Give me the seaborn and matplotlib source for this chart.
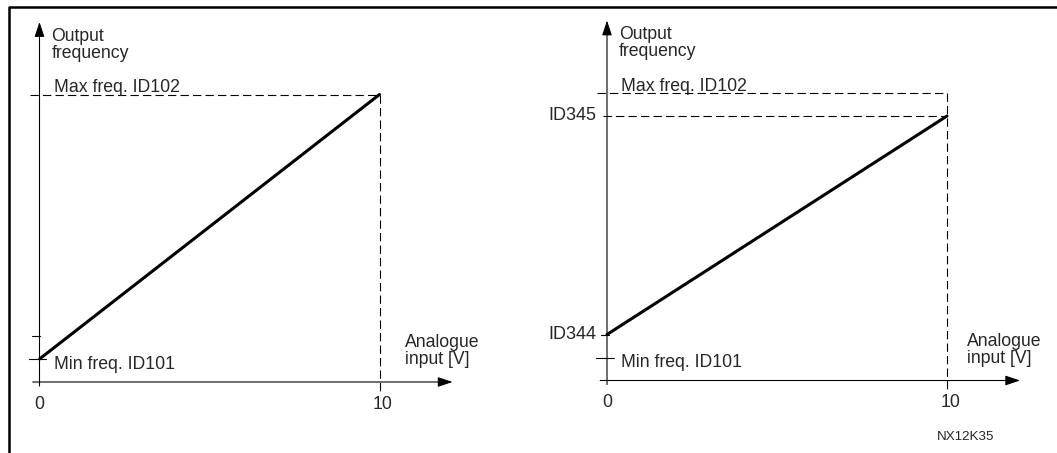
import matplotlib
matplotlib.use("Agg")
import matplotlib.pyplot as plt
import seaborn as sns
from matplotlib.lines import Line2D

# Data (frequencies in arbitrary Hz-like units, input in volts)
volts = [0, 10]
min_freq = 4      # Min freq. ID101
max_freq = 50     # Max freq. ID102
id344 = 8         # scaled minimum
id345 = 46        # scaled maximum
left_freq = [min_freq, max_freq]
right_freq = [id344, id345]
left_extra_tick = 8

sns.set_theme(style="white")
plt.rcParams["font.family"] = ["Liberation Sans", "DejaVu Sans"]

W, H = 1057, 453
fig = plt.figure(figsize=(W / 100, H / 100), dpi=100)

SX, SY = 34.0, 5.75   # pixels per volt / per freq unit
XLIM = (-1.1, 12.6)
YLIM = (-12, 63.5)


def make_axes(x0, y0):
    # x0, y0: pixel position (from top-left) of the data origin
    left = x0 + XLIM[0] * SX
    right = x0 + XLIM[1] * SX
    top = y0 - YLIM[1] * SY
    bottom = y0 - YLIM[0] * SY
    ax = fig.add_axes([left / W, 1 - bottom / H, (right - left) / W, (bottom - top) / H])
    ax.set_xlim(*XLIM)
    ax.set_ylim(*YLIM)
    ax.axis("off")
    return ax


FS = 12.7
arrow = dict(arrowstyle="-|>,head_length=0.45,head_width=0.15", color="black",
             lw=0.8, mutation_scale=20, shrinkA=0, shrinkB=0)
dash = dict(color="black", lw=0.8, dashes=(7.5, 3.75))


def draw_axes(ax, dx_text):
    ax.annotate("", xy=(0, 62.6), xytext=(0, -0.7), arrowprops=arrow)
    ax.annotate("", xy=(12.15, 0), xytext=(-0.2, 0), arrowprops=arrow)
    ax.text(0.35, 61.6, "Output\nfrequency", fontsize=FS, va="top", ha="left", linespacing=1.0)
    ax.text(dx_text, 8.3, "Analogue\ninput [V]", fontsize=FS, va="top", ha="left", linespacing=1.0)
    ax.text(volts[0], -3.9, "0", fontsize=FS, ha="center", va="center")
    ax.text(volts[1] + 0.1, -3.9, "10", fontsize=FS, ha="center", va="center")
    ax.plot([volts[1], volts[1]], [max_freq, -1.9], **dash)
    ax.plot([-0.28, volts[1]], [max_freq, max_freq], **dash)
    ax.text(0.42, max_freq + 0.35, "Max freq. ID102", fontsize=FS, va="baseline")
    ax.text(0.42, min_freq - 1.7, "Min freq. ID101", fontsize=FS, va="baseline")
    ax.plot([-0.32, 0.2], [min_freq, min_freq], color="black", lw=0.8)


# Left panel
axL = make_axes(39.5, 382)
draw_axes(axL, 10.75)
axL.plot([-0.22, 0], [left_extra_tick, left_extra_tick], color="black", lw=0.8)
sns.lineplot(x=volts, y=left_freq, ax=axL, color="black", lw=2.2)

# Right panel
axR = make_axes(607, 380.5)
draw_axes(axR, 10.6)
axR.plot([-0.12, volts[1]], [id345, id345], **dash)
axR.plot([-0.18, 0.06], [id344, id344], color="black", lw=0.8)
axR.text(-0.3, id345, "ID345", fontsize=13, ha="right", va="center")
axR.text(-0.3, id344, "ID344", fontsize=13, ha="right", va="center")
sns.lineplot(x=volts, y=right_freq, ax=axR, color="black", lw=2.2)
axR.text(10.56, -9.8, "NX12K35", fontsize=9.6, ha="center", va="center")

# Outer frame (left and top edges)
fig.add_artist(Line2D([8.5 / W, 8.5 / W, 1], [0, 1 - 6.5 / H, 1 - 6.5 / H],
                      color="black", lw=1.8, transform=fig.transFigure))

fig.savefig("out.png", dpi=100)
